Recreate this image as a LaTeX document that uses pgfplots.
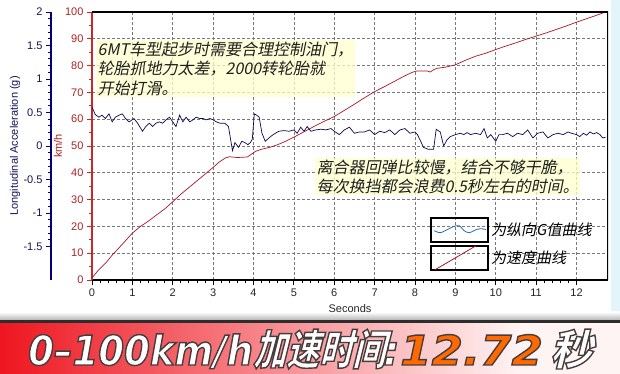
\documentclass[border=0pt]{standalone}
\usepackage{pgfplots}
\pgfplotsset{compat=1.18}
\usepackage{fontspec}
\setmainfont{Liberation Sans}
\newfontfamily\cjkit[FakeSlant=0.2]{Noto Sans CJK SC}
\newfontfamily\bannercjk[FakeSlant=0.25]{Noto Sans CJK SC}
\newfontfamily\bannerlatin{DejaVu Sans}
\newcommand{\ol}{\special{pdf:literal direct 2 Tr 1.4 w 0.28 0.24 0.24 RG}}
\newcommand{\olend}{\special{pdf:literal direct 0 Tr}}
\definecolor{speedred}{RGB}{170,20,40}
\definecolor{gnavy}{RGB}{10,10,80}
\definecolor{axred}{RGB}{200,40,40}
\definecolor{labred}{RGB}{175,35,35}
\definecolor{navyax}{RGB}{0,0,120}
\definecolor{labnavy}{RGB}{20,20,90}
\definecolor{orangeT}{RGB}{255,105,0}
\definecolor{glow}{RGB}{255,255,205}
\definecolor{bannerred}{RGB}{238,22,32}
\definecolor{bannerwhite}{RGB}{255,244,244}
\definecolor{gridgray}{RGB}{120,120,120}
\definecolor{sidecyan}{RGB}{225,245,250}
\definecolor{legblue}{RGB}{40,110,170}

\pgfplotstableread{
t v
0 0.8
0.15 3.5
0.35 6.5
0.5 9.3
0.7 12.5
0.85 15
1.0 17.5
1.2 20
1.4 22
1.6 24.3
1.8 26.5
2.0 29.2
2.2 32
2.4 34.5
2.6 37
2.8 39.5
3.0 42
3.15 44
3.3 45.5
3.4 46
3.6 45.7
3.85 45.9
3.95 47
4.05 48
4.2 48.8
4.4 49.5
4.6 50.5
4.8 51.8
5.0 53.3
5.25 55.3
5.5 57.3
5.75 59.2
6.0 61
6.25 63.3
6.5 65.6
6.75 68
7.0 70.3
7.25 72.2
7.5 74.2
7.75 76.2
7.95 77.6
8.05 78
8.3 78
8.38 77.6
8.45 78.4
8.55 79
8.75 79.4
9.0 80.3
9.25 82
9.5 83.5
9.75 84.6
10.0 86
10.25 87.3
10.5 88.5
10.75 89.8
11.0 91
11.25 92.2
11.5 93.5
11.75 94.8
12.0 96.2
12.25 97.5
12.5 98.8
12.72 100
}\speedtable

\pgfplotstableread{
t g
0.00 0.58
0.08 0.47
0.17 0.43
0.25 0.46
0.33 0.41
0.42 0.48
0.50 0.36
0.58 0.43
0.67 0.46
0.75 0.48
0.83 0.41
0.92 0.36
1.04 0.41
1.13 0.34
1.25 0.22
1.33 0.29
1.42 0.34
1.50 0.29
1.58 0.34
1.67 0.36
1.75 0.34
1.83 0.39
1.92 0.43
2.00 0.36
2.08 0.29
2.17 0.46
2.25 0.36
2.33 0.43
2.42 0.36
2.50 0.39
2.58 0.43
2.67 0.41
2.75 0.41
2.83 0.39
2.92 0.41
3.00 0.39
3.08 0.36
3.17 0.34
3.29 0.34
3.38 0.29
3.48 -0.07
3.54 0.05
3.63 -0.02
3.71 0.07
3.79 0.05
3.86 0.02
3.92 0.05
3.97 0.10
4.02 0.48
4.08 0.46
4.14 0.43
4.21 0.19
4.29 0.07
4.42 0.14
4.54 0.19
4.63 0.22
4.75 0.23
4.88 0.22
5.00 0.24
5.08 0.19
5.17 0.28
5.25 0.22
5.33 0.29
5.42 0.22
5.54 0.24
5.67 0.25
5.79 0.24
5.92 0.26
6.00 0.22
6.125 0.17
6.25 0.24
6.375 0.28
6.5 0.19
6.625 0.21
6.75 0.21
6.875 0.24
7.0 0.17
7.125 0.22
7.25 0.20
7.375 0.24
7.5 0.17
7.625 0.24
7.75 0.26
7.875 0.19
8.0 0.21
8.06 0.17
8.125 0.09
8.21 -0.02
8.33 -0.05
8.46 -0.05
8.525 0.25
8.625 0.21
8.71 0.0
8.79 0.09
8.875 0.14
9.0 0.17
9.125 0.19
9.21 0.17
9.29 0.20
9.375 0.17
9.5 0.19
9.625 0.17
9.71 0.26
9.79 0.12
9.875 0.17
10.0 0.07
10.08 0.17
10.17 0.17
10.29 0.19
10.42 0.14
10.54 0.19
10.67 0.17
10.79 0.24
10.92 0.12
11.04 0.19
11.17 0.21
11.29 0.12
11.42 0.17
11.54 0.19
11.67 0.17
11.79 0.21
11.875 0.19
12.0 0.17
12.08 0.14
12.17 0.19
12.25 0.16
12.33 0.21
12.42 0.18
12.5 0.20
12.58 0.17
12.65 0.12
12.72 0.13
}\gtable

\begin{document}
\begin{tikzpicture}[x=1pt,y=1pt]
\useasboundingbox (0,0) rectangle (620,374);
\fill[white] (0,0) rectangle (620,374);
\fill[sidecyan] (611,62) rectangle (620,374);

% banner
\shade[top color=white, bottom color=gray!65] (0,53) rectangle (620,62);
\fill[gray!35!black] (0,50.5) rectangle (620,53.5);
\fill[bannerwhite] (0,0) rectangle (620,50.5);
\shade[left color=bannerred, right color=bannerwhite] (0,0) rectangle (520,50.5);

% main (speed) axis
\begin{axis}[
  at={(92pt,94pt)}, anchor=south west,
  scale only axis, width=516pt, height=268pt,
  xmin=0, xmax=12.78, ymin=0, ymax=100,
  axis x line*=bottom, axis y line*=left,
  x axis line style={black, line width=2.4pt},
  y axis line style={axred, line width=2pt},
  xtick={0,1,...,12}, ytick={0,10,...,100},
  minor x tick num=4, minor y tick num=1,
  tick align=outside,
  major tick length=5pt, minor tick length=3pt,
  x tick style={black, line width=0.9pt},
  y tick style={axred, line width=0.9pt},
  xmajorgrids=true, ymajorgrids=true,
  grid style={gridgray, line width=0.6pt, dash pattern=on 2.5pt off 2.5pt},
  /pgf/number format/assume math mode=true,
  tick label style={font=\fontsize{11}{11}\selectfont},
  x tick label style={text=black!85},
  y tick label style={text=labred},
  xlabel={Seconds},
  xlabel style={at={(axis description cs:0.5,-0.108)}, anchor=center, font=\fontsize{11}{11}\selectfont, text=black!85},
  ylabel={km/h},
  ylabel style={at={(axis description cs:-0.066,0.5)}, anchor=center, font=\fontsize{11}{11}\selectfont, text=labred},
  legend style={at={(axis description cs:0.655,0.237)}, anchor=north west, draw=none, fill=none, inner sep=0pt,
    font=\cjkit\fontsize{15}{15}\selectfont, row sep=2pt,
    /tikz/every even column/.append style={column sep=1pt}},
  legend cell align=left,
]
\addplot[speedred, line width=0.7pt, forget plot] table[x=t,y=v] {\speedtable};
\addlegendimage{legend image code/.code={
  \draw[black, line width=2pt] (0pt,-12pt) rectangle (57pt,12pt);
  \draw[legblue, line width=0.8pt] plot[smooth] coordinates {(3pt,-1pt) (9pt,-3pt) (16pt,0pt) (22pt,3pt) (28pt,4pt) (33pt,-1pt) (38pt,-3pt) (45pt,0pt) (50pt,1pt) (55pt,0pt)};
}}
\addlegendentry{为纵向G值曲线}
\addlegendimage{legend image code/.code={
  \draw[black, line width=2pt] (0pt,-12pt) rectangle (57pt,12pt);
  \draw[speedred, line width=0.8pt] (4pt,-12pt) -- (45pt,12pt);
}}
\addlegendentry{为速度曲线}
\draw[black, line width=1.3pt] (rel axis cs:0,1) -- (rel axis cs:1,1) -- (rel axis cs:1,0);
\end{axis}

% G data axis
\begin{axis}[
  at={(92pt,94pt)}, anchor=south west,
  scale only axis, width=516pt, height=268pt,
  xmin=0, xmax=12.78, ymin=-2, ymax=2,
  hide axis,
]
\addplot[gnavy, line width=0.7pt] table[x=t,y=g] {\gtable};
\end{axis}

% G ruler axis
\begin{axis}[
  at={(51pt,94pt)}, anchor=south west,
  scale only axis, width=1pt, height=268pt,
  xmin=0, xmax=1, ymin=-2, ymax=2,
  axis x line=none, axis y line*=left,
  y axis line style={navyax, line width=2pt},
  ytick={-1.5,-1,-0.5,0,0.5,1,1.5,2},
  minor y tick num=4,
  tick align=outside,
  major tick length=5pt, minor tick length=3pt,
  y tick style={navyax, line width=0.9pt},
  /pgf/number format/assume math mode=true,
  tick label style={font=\fontsize{11}{11}\selectfont, text=labnavy},
  ylabel={Longitudinal Acceleration (g)},
  ylabel style={at={(axis description cs:-36,0.5)}, anchor=center, font=\fontsize{11}{11}\selectfont, text=labnavy},
]
\end{axis}

% annotations
\node[anchor=north west, inner sep=1.5pt, align=left, font=\cjkit\fontsize{16}{19.5}\selectfont, text=black!88,
  fill=glow, fill opacity=0.75, text opacity=1] at (96,334)
  {6MT车型起步时需要合理控制油门，\\轮胎抓地力太差，2000转轮胎就\\开始打滑。};
\node[anchor=north west, inner sep=1.5pt, align=left, font=\cjkit\fontsize{16}{19}\selectfont, text=black!88,
  fill=glow, fill opacity=0.75, text opacity=1] at (315,216)
  {离合器回弹比较慢，结合不够干脆，\\每次换挡都会浪费0.5秒左右的时间。};

% banner text: white face with dark outline
\node[anchor=base west, inner sep=0pt, text=white] at (28,9) {%
  \rlap{\ol\bannerlatin\bfseries\itshape\fontsize{41}{41}\selectfont\addfontfeatures{FakeStretch=0.904}0–100km/h}%
  \rlap{\hspace*{225pt}\ol\bannercjk\bfseries\fontsize{42}{42}\selectfont\addfontfeatures{FakeStretch=0.786}加速时间}%
  \rlap{\hspace*{355pt}\ol\bannerlatin\bfseries\itshape\fontsize{41}{41}\selectfont :}%
  \rlap{\hspace*{372pt}\textcolor{orangeT}{\ol\bannerlatin\bfseries\itshape\fontsize{41}{41}\selectfont\addfontfeatures{FakeStretch=1.10}12.72}}%
  \rlap{\hspace*{522pt}\ol\bannercjk\bfseries\fontsize{42}{42}\selectfont 秒}%
  \olend\hspace*{564pt}};
\end{tikzpicture}
\end{document}
